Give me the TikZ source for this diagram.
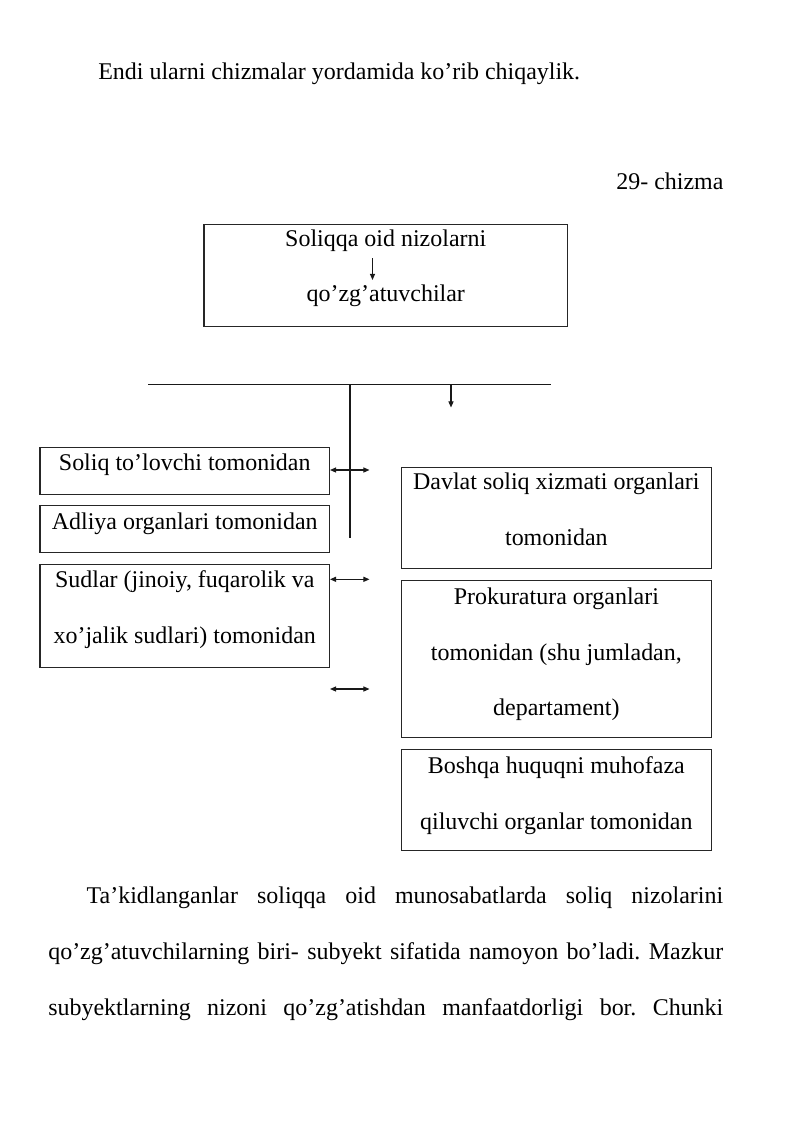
\documentclass[tikz,border=0pt]{standalone}
\usepackage{fontspec}
\setmainfont{Liberation Serif}
\usetikzlibrary{arrows.meta}
\newlength\pxu
\setlength\pxu{0.2625mm}
\newcommand\bodyfont{\fontsize{17.9pt}{20pt}\selectfont}
\frenchspacing
\begin{document}
\begin{tikzpicture}[x=0.2625mm,y=-0.2625mm,
  every node/.style={font=\bodyfont},
  box/.style={draw=black!85,line width=0.75pt,inner sep=0pt,outer sep=0pt,rectangle},
  txt/.style={anchor=base,inner sep=0pt,outer sep=0pt},
  ln/.style={draw=black!90,line width=0.9pt},
  tip/.style={-{Triangle[length=4.6pt,width=3.8pt]}},
  dtip/.style={{Triangle[length=4.6pt,width=3.8pt]}-{Triangle[length=4.6pt,width=3.8pt]}}]
\fill[white] (0,0) rectangle (800,1131);
\useasboundingbox (0,0) rectangle (800,1131);

% header
\node[txt,anchor=base west] (intro) at (98.3,79.3) {Endi ularni chizmalar yordamida ko’rib chiqaylik.};
\node[txt,anchor=base east] (fig) at (723.5,189.5) {29- chizma};

% top box
\node[box,minimum width=363.5\pxu,minimum height=102.5\pxu] (T) at (385.75,275.25) {};
\node[txt] (T1) at (385.75,246.7) {Soliqqa oid nizolarni};
\node[txt] (T2) at (385.75,301.7) {qo’zg’atuvchilar};
\coordinate (ta) at (372.5,258);
\coordinate (tb) at (372.5,280);
\draw[ln,line width=0.8pt,tip] (ta) -- (tb);

% distribution lines
\coordinate (hl) at (148,384.3);
\coordinate (hr) at (551,384.3);
\coordinate (vt) at (350,384.3);
\coordinate (vb) at (350,538);
\coordinate (dt) at (451,384.3);
\coordinate (db) at (451,407.5);
\draw[ln] (hl) -- (hr);
\draw[ln] (vt) -- (vb);
\draw[ln,tip] (dt) -- (db);

% left boxes
\node[box,minimum width=289.5\pxu,minimum height=47\pxu] (L1) at (184.75,470.8) {};
\node[txt] (L1a) at (184.75,470.7) {Soliq to’lovchi tomonidan};
\node[box,minimum width=289.5\pxu,minimum height=46.6\pxu] (L2) at (184.75,529) {};
\node[txt] (L2a) at (184.75,529.3) {Adliya organlari tomonidan};
\node[box,minimum width=289.5\pxu,minimum height=102.6\pxu] (L3) at (184.75,616) {};
\node[txt] (L3a) at (184.75,587) {Sudlar (jinoiy, fuqarolik va};
\node[txt] (L3b) at (184.75,643) {xo’jalik sudlari) tomonidan};

% right boxes
\node[box,minimum width=309.3\pxu,minimum height=101\pxu] (R1) at (556.35,517.8) {};
\node[txt] (R1a) at (556.35,489.3) {Davlat soliq xizmati organlari};
\node[txt] (R1b) at (556.35,545) {tomonidan};
\node[box,minimum width=309.3\pxu,minimum height=157.7\pxu] (R2) at (556.35,658.85) {};
\node[txt] (R2a) at (556.35,604) {Prokuratura organlari};
\node[txt] (R2b) at (556.35,660) {tomonidan (shu jumladan,};
\node[txt] (R2c) at (556.35,715.5) {departament)};
\node[box,minimum width=309.3\pxu,minimum height=100.7\pxu] (R3) at (556.35,799.65) {};
\node[txt] (R3a) at (556.35,773.3) {Boshqa huquqni muhofaza};
\node[txt] (R3b) at (556.35,829) {qiluvchi organlar tomonidan};

% double arrows
\coordinate (a1l) at (330,470);
\coordinate (a1r) at (369.5,470);
\coordinate (a2l) at (330,579.3);
\coordinate (a2r) at (369.5,579.3);
\coordinate (a3l) at (330,689);
\coordinate (a3r) at (369.5,689);
\draw[ln,dtip] (a1l) -- (a1r);
\draw[ln,dtip] (a2l) -- (a2r);
\draw[ln,dtip] (a3l) -- (a3r);

% paragraph
\node[txt,anchor=base west] (P1) at (86.7,903) {\hbox to 636.5\pxu{Ta’kidlanganlar soliqqa oid munosabatlarda soliq nizolarini}};
\node[txt,anchor=base west] (P2) at (48.3,959) {\hbox to 675\pxu{qo’zg’atuvchilarning biri- subyekt sifatida namoyon bo’ladi. Mazkur}};
\node[txt,anchor=base west] (P3) at (48.3,1015) {\hbox to 675\pxu{subyektlarning nizoni qo’zg’atishdan manfaatdorligi bor. Chunki}};
\end{tikzpicture}
\end{document}
